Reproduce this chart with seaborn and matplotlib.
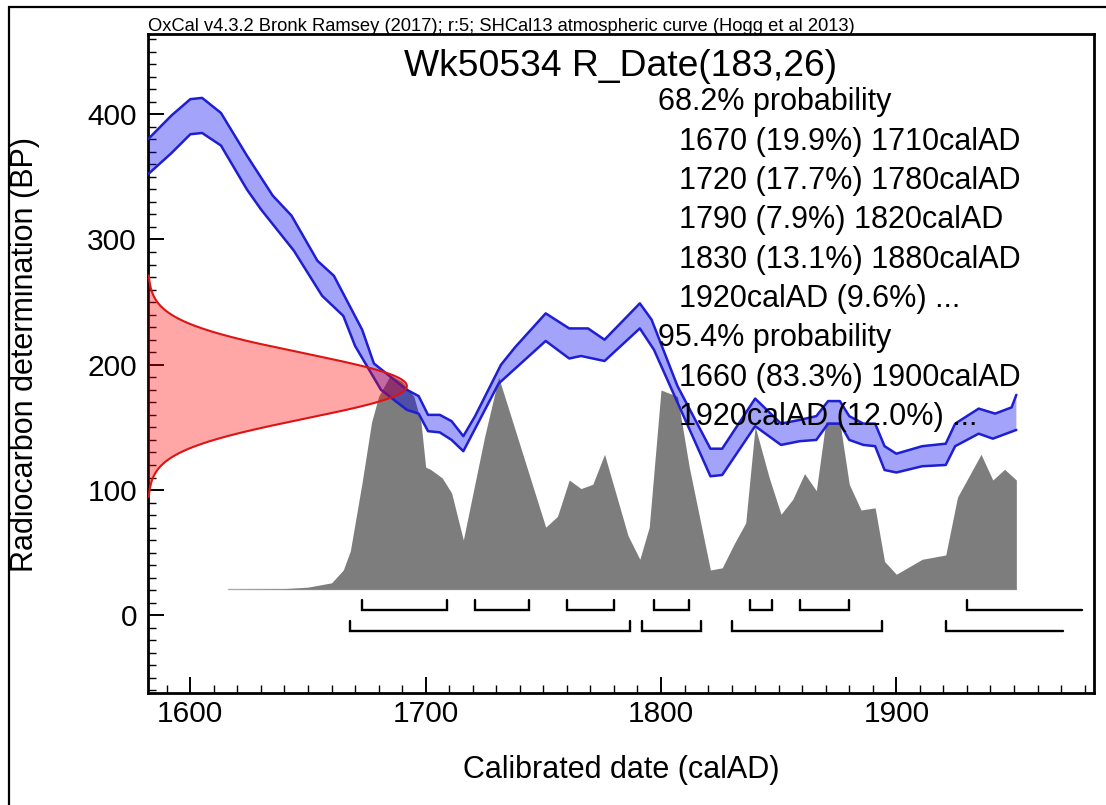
import numpy as np
import matplotlib
matplotlib.use("Agg")
import matplotlib.pyplot as plt
from matplotlib.patches import Rectangle
import seaborn as sns

# ---- measurement -------------------------------------------------------
SAMPLE = "Wk50534"
RC_AGE = 183      # radiocarbon age (BP)
RC_ERR = 26       # 1 sigma (BP)

HEADER = "OxCal v4.3.2 Bronk Ramsey (2017); r:5; SHCal13 atmospheric curve (Hogg et al 2013)"

# ---- SHCal13 calibration band (calAD, BP) --------------------------------
cal_upper_year = [1582, 1592, 1600, 1605, 1613, 1624, 1635, 1643, 1654, 1661,
                  1673, 1678, 1692, 1697, 1701, 1706, 1711, 1716, 1721, 1732,
                  1738, 1751, 1761, 1769, 1776, 1791, 1796, 1807, 1821, 1826,
                  1840, 1851, 1859, 1866, 1871, 1876, 1880, 1886, 1891, 1895,
                  1900, 1911, 1921, 1925, 1935, 1942, 1949, 1951]
cal_upper_bp = [380, 399, 412, 413, 401, 367, 335, 319, 283, 271,
                228, 201, 180, 175, 160, 160, 155, 143, 159, 200,
                214, 241, 229, 229, 220, 249, 236, 183, 133, 133,
                173, 153, 156, 159, 171, 171, 159, 153, 153, 135,
                129, 135, 137, 153, 165, 161, 166, 176]

cal_lower_year = [1582, 1592, 1600, 1605, 1613, 1624, 1630, 1644, 1656, 1665,
                  1670, 1681, 1692, 1697, 1701, 1706, 1711, 1716, 1731, 1751,
                  1761, 1766, 1776, 1791, 1797, 1821, 1826, 1840, 1851, 1859,
                  1866, 1871, 1876, 1880, 1886, 1891, 1895, 1900, 1911, 1921,
                  1925, 1935, 1941, 1951]
cal_lower_bp = [352, 369, 384, 385, 375, 340, 324, 291, 255, 239,
                215, 180, 164, 161, 147, 146, 140, 131, 185, 219,
                205, 207, 203, 229, 212, 111, 112, 151, 136, 139,
                140, 153, 153, 140, 136, 135, 116, 114, 119, 120,
                135, 145, 141, 148]

# ---- calibrated probability (relative) ----------------------------------
post_year = [1616, 1640, 1650, 1655, 1660, 1665, 1668, 1673, 1677, 1680,
             1685, 1690, 1695, 1698, 1700, 1702, 1707, 1711, 1716, 1725,
             1731, 1751, 1756, 1761, 1766, 1771, 1776, 1786, 1791, 1795,
             1800, 1807, 1812, 1821, 1826, 1831, 1836, 1840, 1846, 1851,
             1856, 1861, 1866, 1870, 1876, 1880, 1885, 1891, 1895, 1900,
             1911, 1921, 1926, 1936, 1941, 1946, 1951, 1951]
post_prob = [0.0, 0.003, 0.01, 0.02, 0.03, 0.09, 0.18, 0.50, 0.78, 0.90,
             1.00, 0.97, 0.90, 0.78, 0.57, 0.56, 0.52, 0.45, 0.23, 0.71,
             0.99, 0.29, 0.34, 0.51, 0.47, 0.49, 0.63, 0.25, 0.14, 0.29,
             0.93, 0.90, 0.57, 0.09, 0.10, 0.21, 0.31, 0.76, 0.52, 0.35,
             0.42, 0.54, 0.46, 0.78, 0.78, 0.49, 0.37, 0.38, 0.13, 0.07,
             0.14, 0.16, 0.43, 0.63, 0.51, 0.56, 0.51, 0.0]

# ---- highest posterior density ranges (start, end, closed at end) -------
hpd68 = [(1673, 1709, True), (1721, 1744, True), (1760, 1780, True),
         (1797, 1812, True), (1838, 1847, True), (1859, 1880, True),
         (1930, 1979, False)]
hpd95 = [(1668, 1787, True), (1792, 1817, True), (1830, 1894, True),
         (1921, 1971, False)]

summary = [
    ("68.2% probability", 0),
    ("1670 (19.9%) 1710calAD", 1),
    ("1720 (17.7%) 1780calAD", 1),
    ("1790 (7.9%) 1820calAD", 1),
    ("1830 (13.1%) 1880calAD", 1),
    ("1920calAD (9.6%) ...", 1),
    ("95.4% probability", 0),
    ("1660 (83.3%) 1900calAD", 1),
    ("1920calAD (12.0%) ...", 1),
]

# ---- figure --------------------------------------------------------------
sns.set_theme(style="white")
plt.rcParams["font.family"] = ["Liberation Sans", "DejaVu Sans"]

W, H = 1106, 805
fig = plt.figure(figsize=(W / 100, H / 100), dpi=100)
fig.patch.set_facecolor("white")

ax_l, ax_r, ax_t, ax_b = 148, 1094, 34, 693
ax = fig.add_axes([ax_l / W, 1 - ax_b / H, (ax_r - ax_l) / W, (ax_b - ax_t) / H])
ax.set_facecolor("white")

XMIN, XMAX = 1582, 1984
YMIN, YMAX = -62, 464
ax.set_xlim(XMIN, XMAX)
ax.set_ylim(YMIN, YMAX)

# calibrated distribution
base = 20.8
scale = 171
post_y = base + np.asarray(post_prob) * scale
ax.plot([post_year[0], post_year[-1]], [base, base], color="#b0b0b0", lw=1, zorder=1)
ax.fill_between(post_year, base, post_y, color="#7d7d7d", lw=0, zorder=1)

# calibration curve band
poly_x = list(cal_upper_year) + list(cal_lower_year[::-1])
poly_y = list(cal_upper_bp) + list(cal_lower_bp[::-1])
ax.fill(poly_x, poly_y, color=(0.0, 0.0, 0.94), alpha=0.36, lw=0, zorder=2)
sns.lineplot(x=cal_upper_year, y=cal_upper_bp, ax=ax, sort=False, estimator=None,
             color="#1e1ed2", lw=1.8, zorder=3)
sns.lineplot(x=cal_lower_year, y=cal_lower_bp, ax=ax, sort=False, estimator=None,
             color="#1e1ed2", lw=1.8, zorder=3)

# radiocarbon measurement as a normal distribution on the BP axis
bp = np.linspace(RC_AGE - 3.4 * RC_ERR, RC_AGE + 3.4 * RC_ERR, 400)
dens = np.exp(-0.5 * ((bp - RC_AGE) / RC_ERR) ** 2)
amp = 110
ax.fill_betweenx(bp, XMIN, XMIN + amp * dens, color=(1.0, 0.0, 0.0), alpha=0.35,
                 lw=0, zorder=4)
ax.plot(XMIN + amp * dens, bp, color="#dd1414", lw=1.5, zorder=4)

# HPD range brackets
def draw_ranges(ranges, y_line, y_tick):
    for start, end, closed in ranges:
        if closed:
            xs, ys = [start, start, end, end], [y_tick, y_line, y_line, y_tick]
        else:
            xs, ys = [start, start, end], [y_tick, y_line, y_line]
        ax.plot(xs, ys, color="black", lw=1.7, solid_joinstyle="miter", zorder=5)

draw_ranges(hpd68, 4.0, 12.5)
draw_ranges(hpd95, -12.8, -4.4)

# axes styling
for s in ax.spines.values():
    s.set_visible(True)
    s.set_color("black")
    s.set_linewidth(2.0)

ax.set_xticks([1600, 1700, 1800, 1900])
ax.set_xticks(np.arange(1590, 1984, 10), minor=True)
ax.set_yticks([0, 100, 200, 300, 400])
ax.set_yticks(np.arange(-60, 464, 10), minor=True)
ax.tick_params(which="both", direction="in", top=False, right=False,
               bottom=True, left=True, colors="black")
ax.tick_params(which="major", length=11.5, width=1.4, labelsize=21.5)
ax.tick_params(which="minor", length=5.5, width=1.0)
ax.tick_params(axis="x", which="major", pad=5)
ax.tick_params(axis="y", which="major", pad=8)

ax.set_xlabel("Calibrated date (calAD)", fontsize=22, color="black")
ax.set_ylabel("Radiocarbon determination (BP)", fontsize=22, color="black")
ax.xaxis.set_label_coords(0.5, -0.094)
ax.yaxis.set_label_coords(-0.114, 0.513)
ax.grid(False)

# header and title
def ay(py):
    return (ax_b - py) / (ax_b - ax_t)

def axx(px):
    return (px - ax_l) / (ax_r - ax_l)

ax.text(0.0, ay(31.5), HEADER, transform=ax.transAxes, fontsize=13.2,
        ha="left", va="baseline", color="black", clip_on=False)
ax.text(axx(620), ay(76), f"{SAMPLE} R_Date({RC_AGE},{RC_ERR})",
        transform=ax.transAxes, fontsize=26.8, ha="center", va="baseline",
        color="black", zorder=6)

baselines = [110, 150, 189, 228, 268, 307, 346, 386, 425]
for (line, indent), yb in zip(summary, baselines):
    xpx = 658 if indent == 0 else 679
    ax.text(axx(xpx), ay(yb), line, transform=ax.transAxes, fontsize=22,
            ha="left", va="baseline", color="black", zorder=6)

# outer frame
fig.add_artist(Rectangle((9 / W, -0.05), 1.2, 1 - 7 / H + 0.05,
                         transform=fig.transFigure, fill=False,
                         edgecolor="black", lw=1.6))

fig.savefig("out.png", dpi=100, facecolor="white")
